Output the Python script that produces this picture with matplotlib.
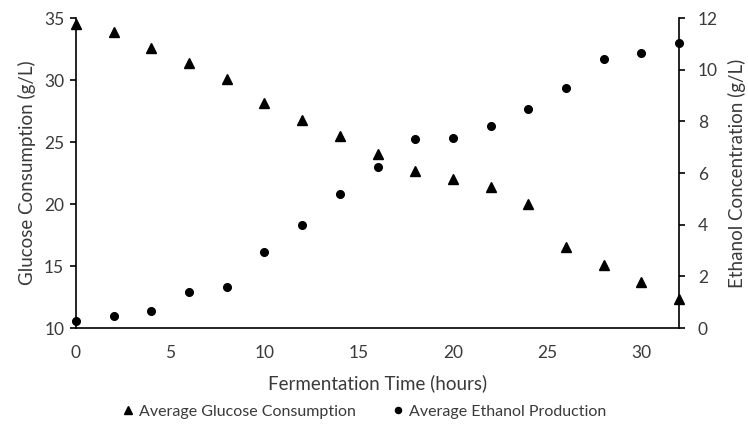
import matplotlib.pyplot as plt

# Fermentation time points (hours)
time_h = [0, 2, 4, 6, 8, 10, 12, 14, 16, 18, 20, 22, 24, 26, 28, 30, 32]

# Average glucose consumption (g/L), left axis
glucose = [34.55, 33.87, 32.55, 31.4, 30.1, 28.17, 26.75, 25.46, 24.0,
           22.63, 22.02, 21.4, 20.03, 16.53, 15.05, 13.68, 12.34]

# Average ethanol production (g/L), right axis
ethanol = [0.28, 0.45, 0.65, 1.39, 1.59, 2.94, 3.99, 5.2, 6.23,
           7.33, 7.37, 7.83, 8.49, 9.29, 10.4, 10.65, 11.03]

plt.rcParams['font.family'] = ['Lato', 'DejaVu Sans']
fs = 12.5
fs_lab = 13.5
fs_leg = 11.5
txt = '#3a3a3a'

fig = plt.figure(figsize=(7.48, 4.30), dpi=100)
ax = fig.add_axes([0.1016, 0.2372, 0.8062, 0.7208])
ax2 = ax.twinx()

ax.plot(time_h, glucose, linestyle='none', marker='^', markersize=6.5,
        color='black', clip_on=False, zorder=5, label='Average Glucose Consumption')
ax2.plot(time_h, ethanol, linestyle='none', marker='o', markersize=5.5,
         color='black', clip_on=False, zorder=5, label='Average Ethanol Production')

ax.set_xlim(0, 32)
ax.set_ylim(10, 35)
ax2.set_ylim(0, 12)
ax.set_xticks([0, 5, 10, 15, 20, 25, 30])
ax.set_yticks([10, 15, 20, 25, 30, 35])
ax2.set_yticks([0, 2, 4, 6, 8, 10, 12])

for a in (ax, ax2):
    a.spines['top'].set_visible(False)
    for s in a.spines.values():
        s.set_linewidth(1.2)
        s.set_color('black')
ax2.spines['left'].set_visible(False)
ax2.spines['bottom'].set_visible(False)
ax.spines['right'].set_visible(False)

ax.tick_params(axis='x', length=0, pad=12, labelsize=fs, colors=txt)
ax.tick_params(axis='y', length=4.5, width=1.2, pad=4, labelsize=fs,
               labelcolor=txt, color='black')
ax2.tick_params(axis='y', length=4.5, width=1.2, pad=9, labelsize=fs,
                labelcolor=txt, color='black')

ax.set_xlabel('Fermentation Time (hours)', fontsize=fs_lab, color=txt, labelpad=10)
ax.set_ylabel('Glucose Consumption (g/L)', fontsize=fs_lab, color=txt, labelpad=6)
ax2.set_ylabel('Ethanol Concentration (g/L)', fontsize=fs_lab, color=txt, labelpad=7)

h1, l1 = ax.get_legend_handles_labels()
h2, l2 = ax2.get_legend_handles_labels()
leg = fig.legend(h1 + h2, l1 + l2, loc='center', bbox_to_anchor=(0.487, 0.043),
                 ncol=2, frameon=False, fontsize=fs_leg, handlelength=0.7,
                 handletextpad=0.35, columnspacing=2.3, markerscale=0.8)
for t in leg.get_texts():
    t.set_color(txt)

fig.savefig('out.png', dpi=100)
